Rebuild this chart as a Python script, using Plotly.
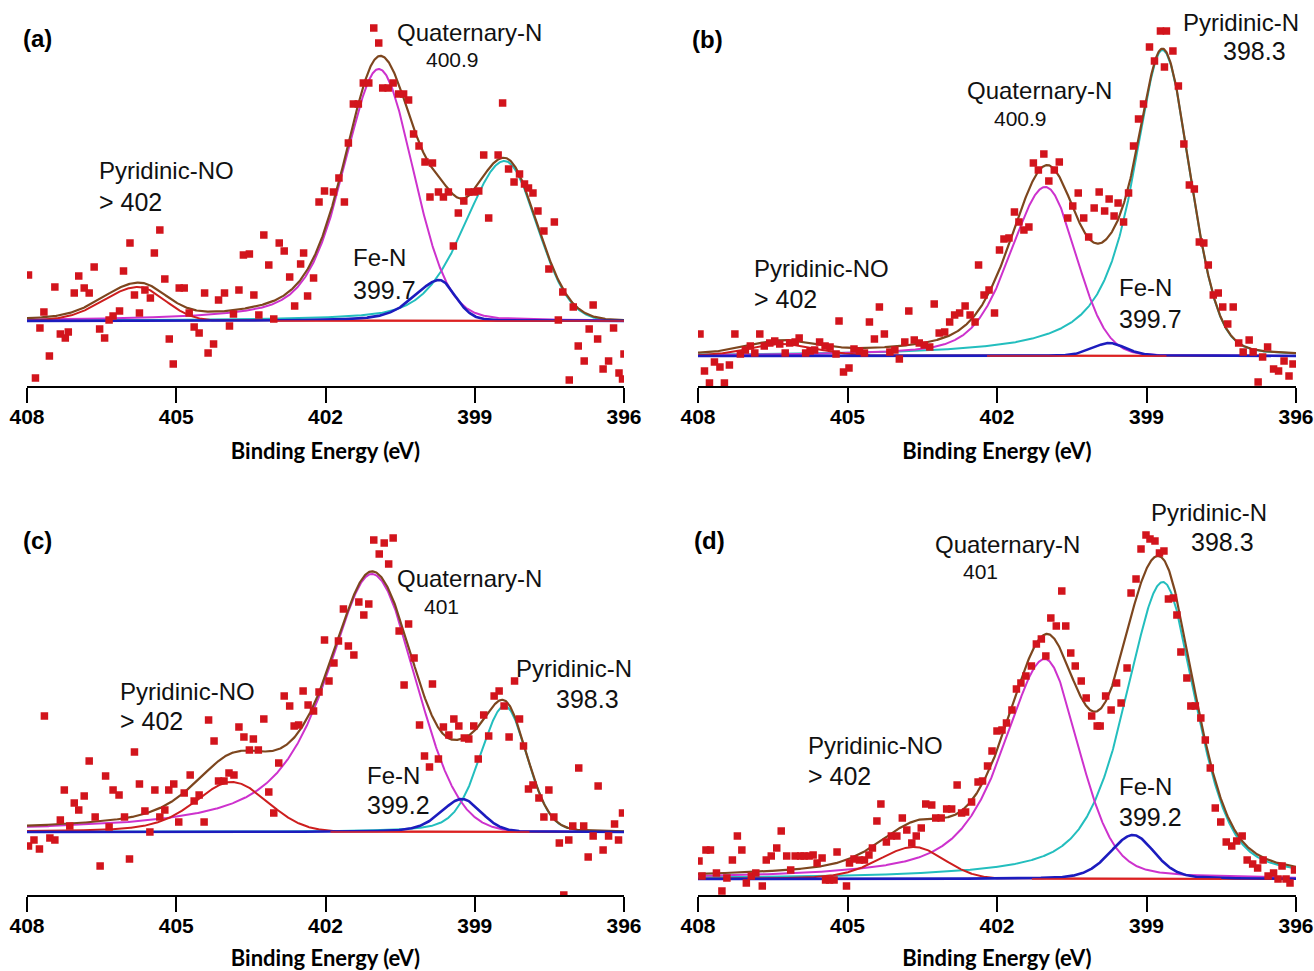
import numpy as np
import plotly.graph_objects as go

# ---------------------------------------------------------------- data
TICKS = [408, 405, 402, 399, 396]
COMPONENTS = ["Pyridinic-NO", "Quaternary-N", "Fe-N", "Pyridinic-N"]

# N 1s spectra: binding energy (eV) and background-subtracted counts (a.u.)
A_ENERGY = [407.97, 407.83, 407.74, 407.66, 407.55, 407.44, 407.33, 407.23, 407.17, 407.05,
            406.96, 406.85, 406.75, 406.65, 406.54, 406.44, 406.35, 406.27, 406.14, 406.06,
            405.93, 405.84, 405.74, 405.63, 405.52, 405.44, 405.33, 405.23, 405.14, 405.06,
            404.94, 404.84, 404.74, 404.64, 404.54, 404.43, 404.36, 404.25, 404.15, 404.03,
            403.93, 403.85, 403.74, 403.65, 403.53, 403.44, 403.34, 403.24, 403.14, 403.04,
            402.93, 402.83, 402.72, 402.62, 402.50, 402.44, 402.36, 402.24, 402.13, 402.02,
            401.84, 401.73, 401.62, 401.54, 401.44, 401.34, 401.24, 401.13, 401.03, 400.93,
            400.85, 400.74, 400.64, 400.53, 400.43, 400.33, 400.23, 400.12, 400.00, 399.90,
            399.85, 399.73, 399.63, 399.53, 399.43, 399.33, 399.22, 399.12, 399.01, 398.92,
            398.82, 398.72, 398.53, 398.44, 398.32, 398.21, 398.10, 398.00, 397.92, 397.83,
            397.73, 397.61, 397.51, 397.40, 397.32, 397.23, 397.10, 397.02, 396.92, 396.80,
            396.70, 396.62, 396.53, 396.42, 396.31, 396.21, 396.10, 396.03, 396.00]
A_COUNTS = [46, -57, -7, 9, -35, 34, -13, -17, -11, 28,
            45, 33, 28, 54, -8, -17, 1, 5, 10, 50,
            78, 26, 8, 31, 23, 68, 91, 42, -18, -43,
            33, 33, 8, -6, -12, 28, -32, -23, 21, 28,
            -5, 7, 31, 66, 67, 26, 6, 86, 56, 2,
            78, 70, 44, 15, 57, 68, 25, 43, 119, 130,
            129, 143, 119, 178, 217, 217, 238, 238, 293, 278,
            233, 233, 238, 227, 227, 221, 187, 175, 159, 124,
            158, 129, 124, 129, 75, 108, 120, 129, 129, 130,
            166, 103, 166, 218, 152, 139, 147, 137, 133, 128,
            110, 90, 52, 99, 1, 29, -59, 14, -25, -40,
            -8, 16, -18, -48, -40, -7, -52, -58, -33]

B_ENERGY = [407.96, 407.87, 407.77, 407.67, 407.56, 407.47, 407.37, 407.26, 407.15, 407.05,
            406.95, 406.86, 406.76, 406.67, 406.56, 406.46, 406.36, 406.25, 406.16, 406.05,
            405.97, 405.84, 405.75, 405.66, 405.56, 405.45, 405.35, 405.23, 405.17, 405.08,
            404.97, 404.87, 404.76, 404.66, 404.56, 404.46, 404.36, 404.26, 404.15, 404.05,
            403.96, 403.85, 403.77, 403.66, 403.56, 403.46, 403.35, 403.26, 403.16, 403.05,
            402.95, 402.85, 402.75, 402.64, 402.54, 402.44, 402.37, 402.26, 402.16, 402.05,
            401.95, 401.86, 401.76, 401.65, 401.56, 401.46, 401.36, 401.27, 401.17, 401.06,
            400.96, 400.85, 400.75, 400.58, 400.48, 400.37, 400.26, 400.16, 400.05, 399.95,
            399.84, 399.75, 399.65, 399.57, 399.46, 399.36, 399.26, 399.16, 399.06, 398.94,
            398.84, 398.72, 398.64, 398.60, 398.47, 398.36, 398.25, 398.14, 398.04, 397.94,
            397.85, 397.76, 397.66, 397.56, 397.47, 397.37, 397.26, 397.15, 397.06, 396.94,
            396.86, 396.76, 396.67, 396.57, 396.45, 396.35, 396.24, 396.14, 396.06]
B_COUNTS = [22, -15, -27, -6, -11, -27, -9, 22, 2, 6,
            10, 3, 22, 10, 13, 15, 12, 3, 13, 14,
            18, 3, 5, 6, 14, 10, 9, 2, 35, -16,
            -12, 7, 5, 3, 34, 17, 49, 22, 4, 6,
            -3, 14, 45, 16, 13, 11, 9, 52, 23, 24,
            34, 41, 43, 50, 41, 34, 91, 61, 66, 43,
            106, 117, 118, 144, 134, 126, 129, 193, 186, 202,
            175, 186, 194, 138, 150, 163, 138, 119, 148, 164,
            145, 157, 140, 153, 134, 163, 210, 237, 252, 309,
            295, 325, 289, 325, 305, 270, 212, 171, 167, 114,
            113, 91, 61, 63, 49, 32, 49, 13, 4, 16,
            4, -26, -1, 9, -13, -15, -5, -20, -8]

C_ENERGY = [407.97, 407.86, 407.75, 407.65, 407.54, 407.44, 407.33, 407.25, 407.14, 407.05,
            406.96, 406.85, 406.75, 406.63, 406.53, 406.42, 406.35, 406.27, 406.15, 406.04,
            405.94, 405.84, 405.74, 405.63, 405.53, 405.43, 405.33, 405.23, 405.15, 405.05,
            404.95, 404.84, 404.72, 404.64, 404.54, 404.44, 404.35, 404.24, 404.15, 404.04,
            403.94, 403.84, 403.74, 403.64, 403.53, 403.45, 403.35, 403.24, 403.14, 403.04,
            402.94, 402.83, 402.72, 402.63, 402.54, 402.45, 402.35, 402.24, 402.13, 402.02,
            401.93, 401.83, 401.74, 401.64, 401.54, 401.43, 401.33, 401.23, 401.13, 401.03,
            400.92, 400.82, 400.73, 400.64, 400.52, 400.42, 400.33, 400.22, 400.11, 400.01,
            399.91, 399.85, 399.73, 399.63, 399.52, 399.42, 399.32, 399.21, 399.12, 399.02,
            398.93, 398.82, 398.72, 398.61, 398.51, 398.41, 398.31, 398.20, 398.10, 398.02,
            397.92, 397.83, 397.71, 397.61, 397.51, 397.41, 397.30, 397.21, 397.11, 397.03,
            396.91, 396.81, 396.72, 396.62, 396.52, 396.42, 396.31, 396.19, 396.11, 396.03]
C_COUNTS = [-14, -8, -17, 116, -6, -8, 12, 42, 6, 29,
            22, 36, 71, 15, -34, 56, 5, 42, 37, 15,
            -27, 80, 48, 21, 0, 42, 15, 22, 42, 48,
            10, 39, 57, 31, 37, 10, 112, 91, 51, 51,
            59, 57, 105, 95, 82, 93, 82, 113, 40, 19,
            69, 136, 126, 106, 107, 141, 127, 121, 140, 192,
            151, 169, 191, 223, 186, 177, 230, 217, 228, 292,
            278, 289, 268, 294, 201, 147, 208, 174, 107, 76,
            65, 148, 73, 105, 97, 113, 106, 94, 93, 106,
            73, 117, 96, 136, 141, 126, 95, 151, 113, 86,
            43, 47, 34, 15, 42, 15, -11, -63, -8, 6,
            64, 6, -25, -4, 46, -18, -4, 8, -8, 19]

D_ENERGY = [407.98, 407.92, 407.84, 407.75, 407.63, 407.52, 407.42, 407.31, 407.21, 407.12,
            407.03, 406.93, 406.84, 406.71, 406.63, 406.53, 406.42, 406.33, 406.22, 406.14,
            406.05, 405.94, 405.87, 405.77, 405.69, 405.61, 405.51, 405.44, 405.36, 405.27,
            405.21, 405.02, 404.96, 404.87, 404.76, 404.66, 404.57, 404.50, 404.41, 404.33,
            404.22, 404.12, 404.01, 403.90, 403.81, 403.71, 403.62, 403.52, 403.43, 403.31,
            403.23, 403.12, 403.01, 402.91, 402.80, 402.71, 402.63, 402.51, 402.38, 402.29,
            402.19, 402.10, 402.00, 401.90, 401.81, 401.70, 401.61, 401.52, 401.42, 401.31,
            401.21, 401.11, 401.02, 400.92, 400.81, 400.70, 400.62, 400.52, 400.43, 400.31,
            400.21, 400.10, 399.99, 399.93, 399.82, 399.71, 399.60, 399.51, 399.39, 399.31,
            399.21, 399.11, 399.01, 398.93, 398.83, 398.74, 398.65, 398.56, 398.46, 398.39,
            398.31, 398.19, 398.11, 398.02, 397.91, 397.82, 397.72, 397.62, 397.51, 397.40,
            397.29, 397.19, 397.08, 396.98, 396.87, 396.77, 396.66, 396.56, 396.45, 396.36,
            396.28, 396.20, 396.12, 396.03]
D_COUNTS = [18, 3, 29, 29, 6, -12, 1, 19, 43, 29,
            -4, 3, 6, -7, 19, 23, 31, 48, 23, 9,
            23, 23, 23, 23, 24, 16, 21, -1, -1, -1,
            27, -7, 16, 20, 19, 19, 24, 31, 58, 75,
            37, 43, 43, 61, 49, 36, 43, 51, 75, 74,
            61, 61, 70, 70, 94, 66, 67, 77, 97, 98,
            113, 128, 148, 149, 156, 169, 190, 196, 203, 213,
            235, 240, 223, 261, 253, 288, 253, 226, 213, 198,
            181, 163, 153, 153, 183, 169, 196, 176, 211, 286,
            300, 330, 344, 340, 338, 326, 328, 280, 281, 264,
            227, 201, 173, 173, 161, 139, 111, 71, 57, 37,
            33, 38, 43, 19, 15, 11, 19, 3, 6, 0,
            13, 0, -4, 9]

# fitted components, in the order of COMPONENTS
# centre (eV), peak height, HWHM on the high-BE / low-BE side, Lorentzian fraction per side
A_CENTER = [405.77, 400.93, 399.71, 398.40]
A_HEIGHT = [34, 252, 41, 160]
A_W_HI = [0.82, 0.84, 0.60, 0.95]
A_W_LO = [0.64, 0.81, 0.38, 0.76]
A_MIX_HI = [0.10, 0.45, 0.50, 0.35]
A_MIX_LO = [0.00, 0.10, 0.20, 0.00]

B_CENTER = [406.30, 401.03, 399.75, 398.68]
B_HEIGHT = [12, 169, 13, 306]
B_W_HI = [0.80, 0.84, 0.40, 0.70]
B_W_LO = [0.80, 0.72, 0.40, 0.65]
B_MIX_HI = [0.20, 0.40, 0.30, 0.85]
B_MIX_LO = [0.20, 0.05, 0.30, 0.15]

C_CENTER = [403.89, 401.07, 399.26, 398.40]
C_HEIGHT = [50, 258, 33, 126]
C_W_HI = [0.88, 1.11, 0.50, 0.58]
C_W_LO = [0.85, 1.02, 0.46, 0.53]
C_MIX_HI = [0.45, 0.80, 0.40, 0.30]
C_MIX_LO = [0.00, 0.00, 0.10, 0.10]

D_CENTER = [403.67, 401.04, 399.27, 398.67]
D_HEIGHT = [32, 220, 44, 297]
D_W_HI = [0.84, 1.00, 0.55, 0.90]
D_W_LO = [0.72, 0.80, 0.51, 0.78]
D_MIX_HI = [0.30, 0.70, 0.30, 0.60]
D_MIX_LO = [0.00, 0.25, 0.30, 0.45]

# extent of the fitted background line, per panel
BG_START = [403.1, 402.2, 401.9, 401.3]
BG_END = [396.0, 398.6, 397.9, 397.5]

# ---------------------------------------------------------------- styling
W, H = 1314, 971
MARKER_RED = "rgb(210,20,28)"
COMP_COLORS = {
    "Pyridinic-NO": "rgb(205,30,30)",
    "Quaternary-N": "rgb(205,50,205)",
    "Fe-N": "rgb(28,28,190)",
    "Pyridinic-N": "rgb(35,190,190)",
}
ENVELOPE = "rgb(125,70,30)"
TEXT_FONT = "Liberation Sans, Arial, sans-serif"
TITLE_FONT = "Lato, Liberation Sans, Arial, sans-serif"


def component(e, c, h, w_hi, w_lo, m_hi, m_lo):
    """Asymmetric pseudo-Voigt line shape."""
    hi = e >= c
    w = np.where(hi, w_hi, w_lo)
    m = np.where(hi, m_hi, m_lo)
    r2 = ((e - c) / w) ** 2
    return h * (m / (1.0 + r2) + (1.0 - m) * np.exp(-np.log(2.0) * r2))


def px_x(lo, hi):
    return [lo / W, hi / W]


def px_y(top, bottom):
    return [(H - bottom) / H, (H - top) / H]


panels = [
    dict(energy=A_ENERGY, counts=A_COUNTS,
         fit=(A_CENTER, A_HEIGHT, A_W_HI, A_W_LO, A_MIX_HI, A_MIX_LO),
         xdom=px_x(27, 624), ydom=px_y(10, 386), yrange=[-65, 311]),
    dict(energy=B_ENERGY, counts=B_COUNTS,
         fit=(B_CENTER, B_HEIGHT, B_W_HI, B_W_LO, B_MIX_HI, B_MIX_LO),
         xdom=px_x(698, 1296), ydom=px_y(10, 386), yrange=[-30, 346]),
    dict(energy=C_ENERGY, counts=C_COUNTS,
         fit=(C_CENTER, C_HEIGHT, C_W_HI, C_W_LO, C_MIX_HI, C_MIX_LO),
         xdom=px_x(27, 624), ydom=px_y(495, 895), yrange=[-63, 337]),
    dict(energy=D_ENERGY, counts=D_COUNTS,
         fit=(D_CENTER, D_HEIGHT, D_W_HI, D_W_LO, D_MIX_HI, D_MIX_LO),
         xdom=px_x(698, 1296), ydom=px_y(495, 895), yrange=[-16, 384]),
]

# annotation text: (text, x in eV, y in counts, kind)
labels = [
    [("(a)", 407.78, 282, "tag"), ("Quaternary-N", 399.10, 288, "name_c"), ("400.9", 399.44, 261, "small"),
     ("Pyridinic-NO", 406.59, 150, "name_l"), ("> 402", 406.59, 119, "num_l"),
     ("Fe-N", 401.49, 63, "name_l"), ("399.7", 401.49, 31, "num_l")],
    [("(b)", 407.80, 316, "tag"), ("Pyridinic-N", 397.10, 333, "name_c"), ("398.3", 396.84, 305, "num_c"),
     ("Quaternary-N", 401.14, 265, "name_c"), ("400.9", 401.52, 237, "small"),
     ("Pyridinic-NO", 406.92, 87, "name_l"), ("> 402", 406.92, 57, "num_l"),
     ("Fe-N", 399.59, 68, "name_l"), ("399.7", 399.59, 37, "num_l")],
    [("(c)", 407.78, 292, "tag"), ("Quaternary-N", 399.10, 254, "name_c"), ("401", 399.66, 226, "small"),
     ("Pyridinic-N", 397.01, 164, "name_c"), ("398.3", 396.74, 133, "num_c"),
     ("Pyridinic-NO", 406.17, 141, "name_l"), ("> 402", 406.17, 111, "num_l"),
     ("Fe-N", 401.21, 57, "name_l"), ("399.2", 401.21, 27, "num_l")],
    [("(d)", 407.76, 339, "tag"), ("Pyridinic-N", 397.75, 367, "name_c"), ("398.3", 397.48, 337, "num_c"),
     ("Quaternary-N", 401.78, 335, "name_c"), ("401", 402.34, 308, "small"),
     ("Pyridinic-NO", 405.83, 134, "name_l"), ("> 402", 405.83, 103, "num_l"),
     ("Fe-N", 399.59, 93, "name_l"), ("399.2", 399.59, 62, "num_l")],
]

LABEL_STYLE = {
    "tag": (24, "bold", "center"),
    "small": (21, "normal", "center"),
    "name_c": (24, "normal", "center"),
    "num_c": (25, "normal", "center"),
    "name_l": (24, "normal", "left"),
    "num_l": (25, "normal", "left"),
}

grid = np.linspace(396, 408, 1201)
fig = go.Figure()
annotations = []
layout_axes = {}

for i, p in enumerate(panels):
    n = "" if i == 0 else str(i + 1)
    xa, ya = "x" + n, "y" + n
    centers, heights, w_hi, w_lo, m_hi, m_lo = p["fit"]
    curves = {}
    for k, name in enumerate(COMPONENTS):
        curves[name] = component(grid, centers[k], heights[k], w_hi[k], w_lo[k], m_hi[k], m_lo[k])
    envelope = sum(curves.values())

    for name in ["Pyridinic-N", "Quaternary-N", "Pyridinic-NO"]:
        fig.add_trace(go.Scatter(x=grid, y=curves[name], mode="lines", xaxis=xa, yaxis=ya,
                                 line=dict(color=COMP_COLORS[name], width=2), showlegend=False))
    fig.add_trace(go.Scatter(x=grid, y=envelope, mode="lines", xaxis=xa, yaxis=ya,
                             line=dict(color=ENVELOPE, width=2.2), showlegend=False))
    fig.add_trace(go.Scatter(x=grid, y=curves["Fe-N"], mode="lines", xaxis=xa, yaxis=ya,
                             line=dict(color=COMP_COLORS["Fe-N"], width=2.6), showlegend=False))
    fig.add_trace(go.Scatter(x=[BG_START[i], BG_END[i]], y=[0, 0], mode="lines", xaxis=xa, yaxis=ya,
                             line=dict(color="rgb(225,35,35)", width=1.4), showlegend=False))
    fig.add_trace(go.Scatter(x=p["energy"], y=p["counts"], mode="markers", xaxis=xa, yaxis=ya,
                             marker=dict(symbol="square", size=7.5, color=MARKER_RED,
                                         line=dict(width=0)),
                             showlegend=False))

    layout_axes["xaxis" + n] = dict(
        domain=p["xdom"], anchor=ya, range=[408, 396], tickvals=TICKS,
        ticktext=[str(t) for t in TICKS], showline=True, linecolor="black", linewidth=2,
        ticks="outside", ticklen=15, tickwidth=2, tickcolor="black", showgrid=False,
        zeroline=False, ticklabelstandoff=-4,
        tickfont=dict(family=TEXT_FONT, size=21, color="black", weight="bold"),
        title=dict(text="Binding Energy (eV)", standoff=16,
                   font=dict(family=TITLE_FONT, size=22, color="black", weight="bold")),
    )
    layout_axes["yaxis" + n] = dict(domain=p["ydom"], anchor=xa, range=p["yrange"], visible=False)

    for text, x, y, kind in labels[i]:
        size, weight, anchor = LABEL_STYLE[kind]
        font = dict(family=TEXT_FONT, size=size, weight=weight,
                    color="black" if kind == "tag" else "#111")
        annotations.append(dict(text=text, x=x, y=y, xref=xa, yref=ya, showarrow=False,
                                xanchor=anchor, yanchor="middle", font=font))

fig.update_layout(
    width=W, height=H, margin=dict(l=0, r=0, t=0, b=0),
    paper_bgcolor="white", plot_bgcolor="white", template="none",
    annotations=annotations, **layout_axes,
)

fig.write_html("out.html")
